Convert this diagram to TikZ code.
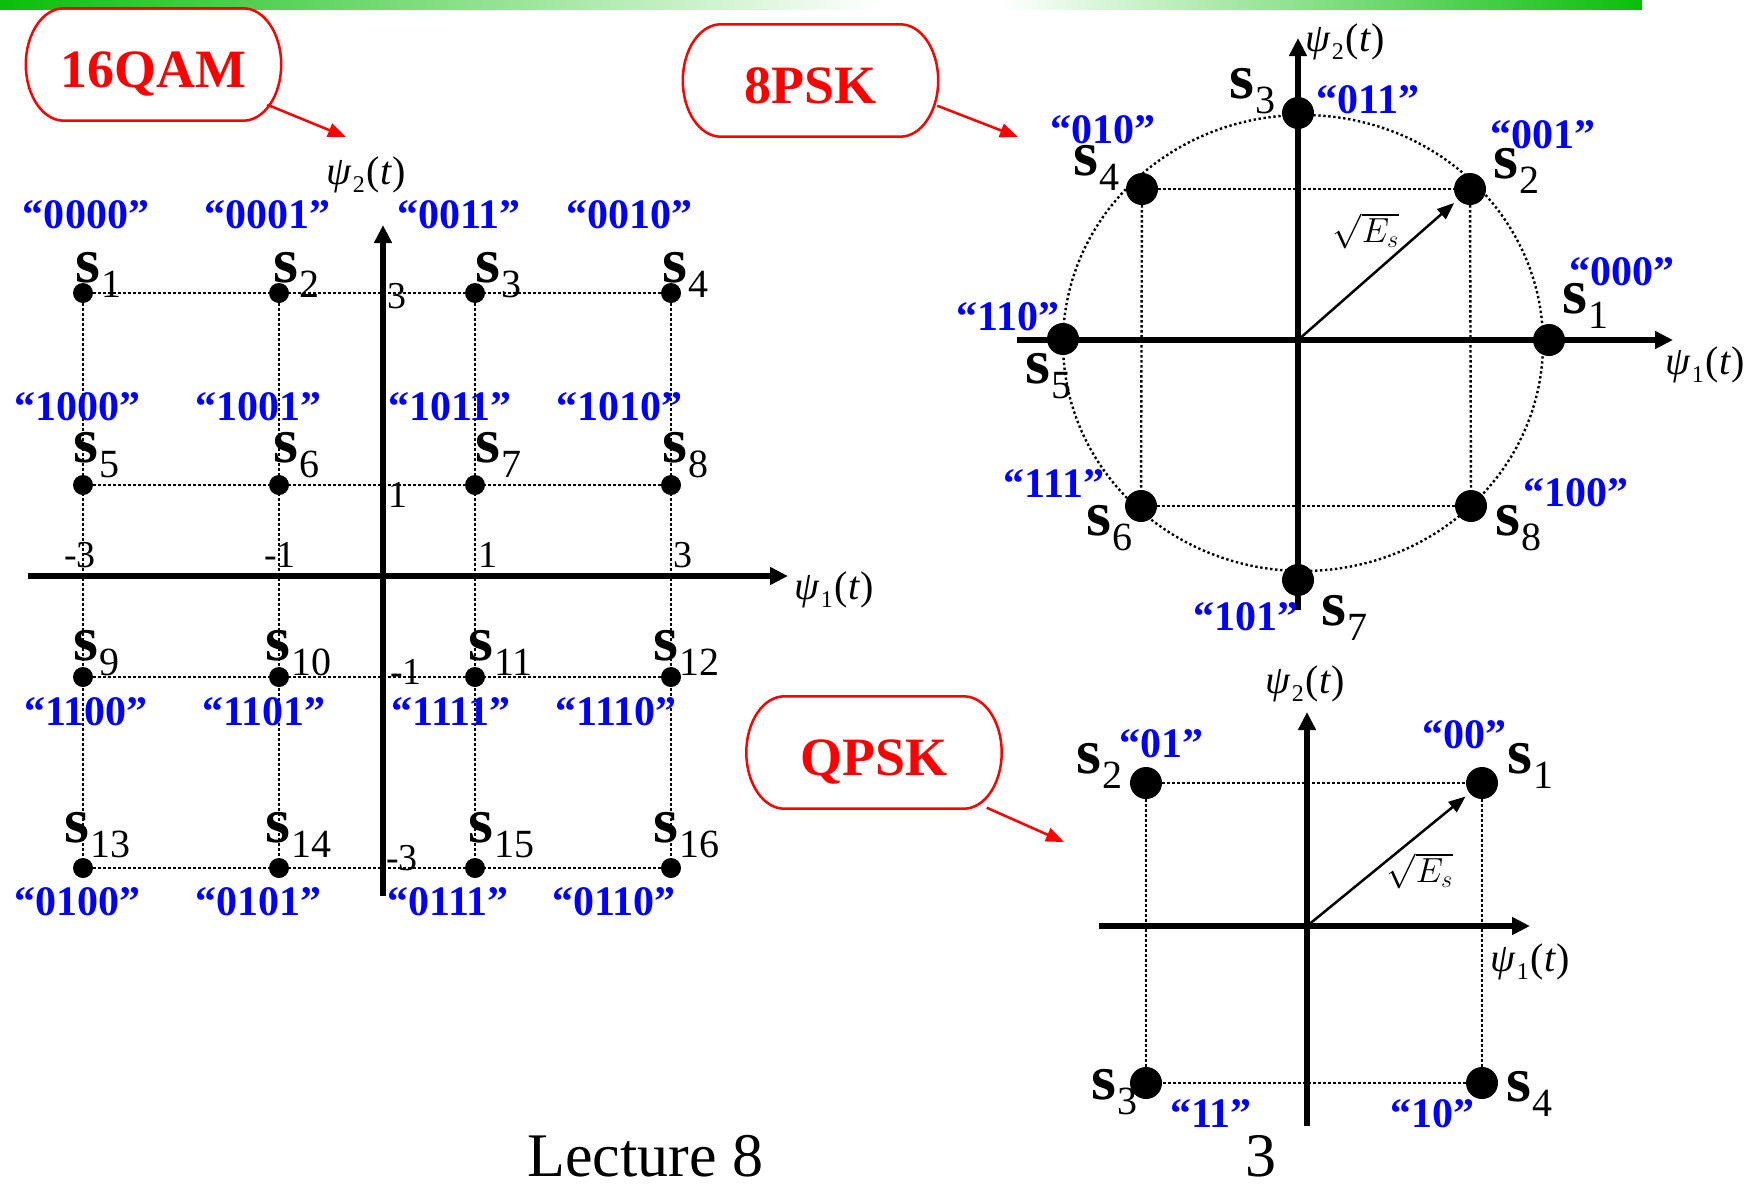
\documentclass[tikz,border=0pt]{standalone}
\usepackage{fontspec}
\setmainfont{Liberation Serif}
\usetikzlibrary{arrows.meta,calc}
\definecolor{bargreen}{RGB}{10,190,10}
\newcommand\symb[1]{\textbf{s}\kern1pt\raisebox{-15pt}{\fontsize{40}{40}\selectfont #1}}
\newcommand\basis[1]{\textit{ψ}\kern1pt\raisebox{-8pt}{\fontsize{24}{24}\selectfont #1}\kern2pt(\textit{t})}
\newcommand\energy{\scalebox{1.4}{$\sqrt{E_s}$}}
\begin{document}
\begin{tikzpicture}[x=1pt, y=-1pt, line join=round, >={Triangle[length=18pt,width=17pt]}]
	\tikzset{
	axisline/.style={line width=6pt, ->},
	gridline/.style={line width=2.4pt, dash pattern=on 2.4pt off 2.6pt},
	sigpt/.style={circle, fill=black, inner sep=0pt, minimum size=#1},
	sym/.style={anchor=base west, inner sep=0pt, font=\fontsize{64}{64}\selectfont},
	bits/.style={anchor=base, inner sep=0pt, text=blue, font=\fontsize{42}{42}\selectfont\bfseries},
	ticklabel/.style={anchor=base west, inner sep=0pt, font=\fontsize{38}{38}\selectfont},
	basislabel/.style={inner sep=0pt, font=\fontsize{40}{40}\selectfont},
	energylabel/.style={inner sep=0pt, font=\fontsize{24}{24}\selectfont},
	callout/.style={minimum width=255pt, minimum height=112pt, inner sep=0pt, text height=50pt, text depth=5pt, text=red, font=\fontsize{54}{54}\selectfont\bfseries},
	redarrow/.style={red, line width=2.5pt, -{Triangle[length=18pt,width=14pt]}},
	energy/.style={line width=2.5pt, shorten >=5pt, -{Triangle[length=17pt,width=13pt]}}
	}
	\useasboundingbox (0,0) rectangle (1758,1186);
	\shade[left color=bargreen, right color=white] (0,0) rectangle (880,9);
	\shade[left color=white, right color=bargreen] (1000,0) rectangle (1642,9);
	
	\node[callout] (qam) at (153.5,64.5) {16QAM};
	\node[callout] (psk) at (810.5,80.5) {8PSK};
	\node[callout] (qpsk) at (874,752.5) {QPSK};
	\foreach \b in {qam,psk,qpsk}{
	\draw[red, line width=2.5pt] (\b.west) .. controls +(0,-31) and +(-21,0) .. ([xshift=38pt]\b.north west)
	-- ([xshift=-38pt]\b.north east) .. controls +(21,0) and +(0,-31) .. (\b.east)
	.. controls +(0,31) and +(21,0) .. ([xshift=-38pt]\b.south east)
	-- ([xshift=38pt]\b.south west) .. controls +(-21,0) and +(0,31) .. (\b.west);
	}
	\coordinate (qamtip) at (346,137);
	\coordinate (psktip) at (1018,137);
	\coordinate (qpsktip) at (1064,842);
	\draw[redarrow] ($(qam.south east)+(-14,-16)$) -- (qamtip);
	\draw[redarrow] ($(psk.south east)+(-1,-31)$) -- (psktip);
	\draw[redarrow] ($(qpsk.south east)+(-15,-1)$) -- (qpsktip);
	
	\foreach \y [count=\r from 0] in {293,485,677,868}{
	\foreach \x [count=\c] in {83,279,475,671}{
	\pgfmathtruncatemacro\n{4*\r+\c}
	\node[sigpt=20pt] (q\n) at (\x,\y) {};
	}}
	\foreach \i in {1,5,9,13}{
	\pgfmathtruncatemacro\j{\i+3}
	\draw[gridline] (q\i) -- (q\j);
	}
	\foreach \i in {1,...,4}{
	\pgfmathtruncatemacro\j{\i+12}
	\draw[gridline] (q\i) -- (q\j);
	}
	\draw[axisline] (383,896) -- (383,225);
	\draw[axisline] (28,576) -- (788,576);
	\foreach \n/\x/\y in {1/75/282, 2/273/282, 3/475/282, 4/662/282, 5/73/462, 6/273/462, 7/475/462, 8/662/462, 9/73/660, 10/265/660, 11/468/660, 12/653/660, 13/64/842, 14/265/842, 15/468/842, 16/653/842}
	\node[sym] (qs\n) at (\x,\y) {\symb{\n}};
	\foreach \b/\x/\y in {0000/86/228, 0001/267/228, 0011/459/228, 0010/629/228, 1000/77/420, 1001/258/420, 1011/450/420, 1010/619/420, 1100/86/725, 1101/264/725, 1111/451/725, 1110/616/725, 0100/77/915, 0101/258/915, 0111/448/915, 0110/614/915}
	\node[bits] (qb\b) at (\x,\y) {“\b”};
	\foreach \t/\x/\y [count=\i] in {3/387/308, 1/388/507, -1/390/684, -3/386/870, -3/64/567, -1/264/567, 1/478/567, 3/673/567}
	\node[ticklabel] (qt\i) at (\x,\y) {\t};
	\node[basislabel] (qy) at (366,175) {\basis{2}};
	\node[basislabel] (qx) at (834,590) {\basis{1}};
	
	\foreach \n/\x/\y in {1/1549/340, 2/1470/189, 3/1298/113, 4/1142/189, 5/1063/339, 6/1141/506, 7/1298/580, 8/1471/506}
	\node[sigpt=32pt] (p\n) at (\x,\y) {};
	\draw[gridline] (1303,343) ellipse [x radius=240pt, y radius=228pt];
	\draw[gridline] (p4) -- (p2);
	\draw[gridline] (p6) -- (p8);
	\draw[gridline] (p4) -- (p6);
	\draw[gridline] (p2) -- (p8);
	\draw[axisline] (1298,610) -- (1298,38);
	\draw[axisline] (1017,340) -- (1673,340);
	\coordinate (po) at (1298,340);
	\draw[energy] (po) -- (p2);
	\node[energylabel] (pe) at (1366,231) {\energy};
	\foreach \n/\x/\y in {1/1562/313, 2/1493/178, 3/1229/98, 4/1073/175, 5/1025/383, 6/1086/535, 7/1321/625, 8/1495/535}
	\node[sym] (ps\n) at (\x,\y) {\symb{\n}};
	\foreach \b/\x/\y in {000/1622/285, 001/1543/148, 011/1368/113, 010/1103/143, 110/1008/330, 111/1054/497, 101/1246/630, 100/1576/506}
	\node[bits] (pb\b) at (\x,\y) {“\b”};
	\node[basislabel] (py) at (1345,42) {\basis{2}};
	\node[basislabel] (px) at (1705,365) {\basis{1}};
	
	\foreach \n/\x/\y in {1/1482/783, 2/1146/783, 3/1146/1083, 4/1482/1083}
	\node[sigpt=32pt] (k\n) at (\x,\y) {};
	\draw[gridline] (k2) -- (k1) -- (k4) -- (k3) -- (k2);
	\draw[axisline] (1307,1126) -- (1307,712);
	\draw[axisline] (1099,926) -- (1530,926);
	\coordinate (ko) at (1307,926);
	\draw[energy] (ko) -- (k1);
	\node[energylabel] (ke) at (1420,871) {\energy};
	\foreach \n/\x/\y in {1/1507/773, 2/1076/773, 3/1091/1099, 4/1506/1101}
	\node[sym] (ks\n) at (\x,\y) {\symb{\n}};
	\foreach \b/\x/\y in {01/1161/757, 00/1464/748, 11/1211/1127, 10/1432/1127}
	\node[bits] (kb\b) at (\x,\y) {“\b”};
	\node[basislabel] (ky) at (1305,684) {\basis{2}};
	\node[basislabel] (kx) at (1530,962) {\basis{1}};
	
	\node[anchor=base west, inner sep=0pt, font=\fontsize{62}{62}\selectfont] (lec) at (527,1176) {Lecture 8};
	\node[anchor=base, inner sep=0pt, font=\fontsize{62}{62}\selectfont] (page) at (1261,1176) {3};
\end{tikzpicture}
\end{document}
